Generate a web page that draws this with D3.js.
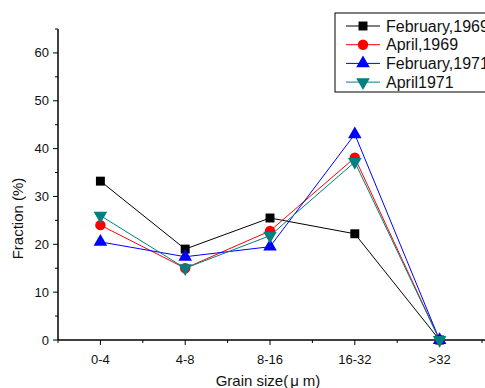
<!DOCTYPE html>
<html>
<head>
<meta charset="utf-8">
<script src="https://cdn.jsdelivr.net/npm/d3@7"></script>
<style>
  body { margin: 0; background: #fff; }
  text { font-family: Arial, "Liberation Sans", sans-serif; fill: #111; }
</style>
</head>
<body>
<script>
// grain size classes
var categories = ['0-4', '4-8', '8-16', '16-32', '>32'];

// fractions (%) per sampling date
var feb1969 = [33.2, 19.0, 25.5, 22.2, 0];
var apr1969 = [24.0, 15.0, 22.8, 38.1, 0];
var feb1971 = [20.5, 17.4, 19.5, 43.0, 0];
var apr1971 = [26.0, 15.0, 21.8, 37.2, 0];

var seriesNames = ['February,1969', 'April,1969', 'February,1971', 'April1971'];
var yTicks = [0, 10, 20, 30, 40, 50, 60];

var series = [
    {name: seriesNames[0], values: feb1969, color: '#000000', symbol: d3.symbolSquare, size: 80, rot: 0},
    {name: seriesNames[1], values: apr1969, color: '#ff0000', symbol: d3.symbolCircle, size: 85, rot: 0},
    {name: seriesNames[2], values: feb1971, color: '#0000ff', symbol: d3.symbolTriangle, size: 80, rot: 0},
    {name: seriesNames[3], values: apr1971, color: '#008080', symbol: d3.symbolTriangle, size: 80, rot: 180}
];

//setup graph size
var margin = {top: 29, left: 58};
var width = 424, height = 311;

var svg = d3.select('body').append('svg')
    .attr('width', 485)
    .attr('height', 388);

var g = svg.append('g')
    .attr('transform', 'translate(' + margin.left + ',' + margin.top + ')');

var x = d3.scaleLinear().domain([-0.5, 4.5]).range([0, width]);
var y = d3.scaleLinear().domain([0, 65]).range([height, 0]);

// y axis: major + minor ticks
g.append('line').attr('x1', 0).attr('x2', 0).attr('y1', 0).attr('y2', height)
    .attr('stroke', '#000').attr('stroke-width', 1.5);
d3.range(5, 70, 10).forEach(function(v) {
    g.append('line').attr('x1', -3).attr('x2', 0).attr('y1', y(v)).attr('y2', y(v))
        .attr('stroke', '#000').attr('stroke-width', 1);
});
yTicks.forEach(function(v) {
    g.append('line').attr('x1', -5).attr('x2', 0).attr('y1', y(v)).attr('y2', y(v))
        .attr('stroke', '#000').attr('stroke-width', 1);
    g.append('text').attr('x', -9).attr('y', y(v)).attr('dy', '0.35em')
        .attr('text-anchor', 'end').style('font-size', '13px').text(v);
});

// x axis
g.append('line').attr('x1', 0).attr('x2', width + 5).attr('y1', height).attr('y2', height)
    .attr('stroke', '#000').attr('stroke-width', 1.5);
d3.range(0, 5).forEach(function(i) {
    g.append('line').attr('x1', x(i)).attr('x2', x(i)).attr('y1', height).attr('y2', height + 5)
        .attr('stroke', '#000').attr('stroke-width', 1);
});
d3.range(-0.5, 4.6, 1).forEach(function(i) {
    g.append('line').attr('x1', x(i)).attr('x2', x(i)).attr('y1', height).attr('y2', height + 3)
        .attr('stroke', '#000').attr('stroke-width', 1);
});
categories.forEach(function(c, i) {
    g.append('text').attr('x', x(i)).attr('y', height + 24)
        .attr('text-anchor', 'middle').style('font-size', '13px').text(c);
});

// axis titles
svg.append('text')
    .attr('transform', 'translate(23,' + (margin.top + height / 2 + 34) + ') rotate(-90)')
    .attr('text-anchor', 'middle').style('font-size', '15px').text('Fraction (%)');
var xt = svg.append('text')
    .attr('x', 268).attr('y', 386)
    .attr('text-anchor', 'middle').style('font-size', '15px');
xt.append('tspan').text('Grain size(');
xt.append('tspan').attr('dx', 2).text('\u03bc');
xt.append('tspan').attr('dx', 4).text('m)');

// lines and markers
var line = d3.line().x(function(d, i) { return x(i); }).y(function(d) { return y(d); });

series.forEach(function(s) {
    g.append('path').datum(s.values)
        .attr('d', line).attr('fill', 'none')
        .attr('stroke', s.color).attr('stroke-width', 1);
});
series.forEach(function(s) {
    g.selectAll(null).data(s.values).enter().append('path')
        .attr('d', d3.symbol().type(s.symbol).size(s.size))
        .attr('transform', function(d, i) {
            return 'translate(' + x(i) + ',' + y(d) + ') rotate(' + s.rot + ')';
        })
        .attr('fill', s.color);
});

// legend
var leg = svg.append('g').attr('transform', 'translate(335,13)');
leg.append('rect').attr('x', 0).attr('y', 0).attr('width', 170).attr('height', 79)
    .attr('fill', '#fff').attr('stroke', '#000').attr('stroke-width', 1);
series.forEach(function(s, i) {
    var yy = 13 + i * 18.7;
    leg.append('line').attr('x1', 11).attr('x2', 45).attr('y1', yy).attr('y2', yy)
        .attr('stroke', s.color).attr('stroke-width', 1);
    leg.append('path')
        .attr('d', d3.symbol().type(s.symbol).size(s.size))
        .attr('transform', 'translate(28,' + yy + ') rotate(' + s.rot + ')')
        .attr('fill', s.color);
    leg.append('text').attr('x', 51).attr('y', yy).attr('dy', '0.36em')
        .style('font-size', '16px').text(s.name);
});
</script>
</body>
</html>
